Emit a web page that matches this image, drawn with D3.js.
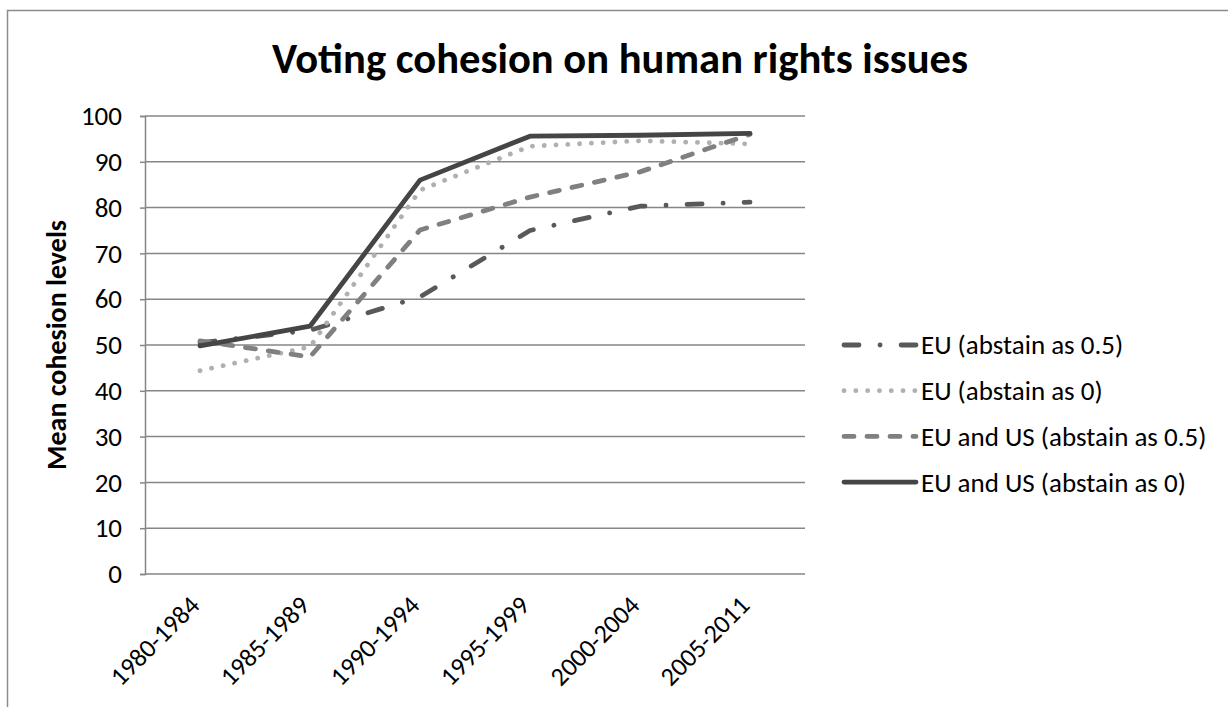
<!DOCTYPE html>
<html>
<head>
<meta charset="utf-8">
<script src="https://cdn.jsdelivr.net/npm/d3@7/dist/d3.min.js"></script>
<style>
  html, body { margin: 0; padding: 0; background: #fff; }
  svg { display: block; }
  text { font-family: Carlito, Lato, "Open Sans", sans-serif; fill: #000; }
</style>
</head>
<body>
<svg id="chart" width="1228" height="707"></svg>
<script>
// Periods on the x axis
const periods = ["1980-1984", "1985-1989", "1990-1994", "1995-1999", "2000-2004", "2005-2011"];

// Mean cohesion level per period for each measure
const euHalf    = [50.5, 53.2, 60.5, 75.0, 80.3, 81.2];
const euZero    = [44.4, 49.6, 83.8, 93.4, 94.6, 93.9];
const euUsHalf  = [50.9, 47.4, 75.1, 82.3, 87.8, 96.0];
const euUsZero  = [49.8, 54.1, 86.0, 95.6, 95.8, 96.2];

const seriesNames = [
  "EU (abstain as 0.5)",
  "EU (abstain as 0)",
  "EU and US (abstain as 0.5)",
  "EU and US (abstain as 0)"
];

const yTicks = [0, 10, 20, 30, 40, 50, 60, 70, 80, 90, 100];

// Line styles, drawn in series order
const styles = [
  { color: "#595959", dash: "15,21,0.1,21" },
  { color: "#b0b0b0", dash: "0.1,11.7" },
  { color: "#808080", dash: "10,13" },
  { color: "#454545", dash: null }
];

const series = [euHalf, euZero, euUsHalf, euUsZero].map((values, i) => ({
  name: seriesNames[i],
  values,
  style: styles[i]
}));

const FONT = "Carlito, Lato, 'Open Sans', sans-serif";
const svg = d3.select("#chart");
const plot = { left: 145, right: 805, top: 116, bottom: 574 };

// Outer chart frame
svg.append("rect")
  .attr("x", 7.5).attr("y", 10.5)
  .attr("width", 1240).attr("height", 720)
  .attr("fill", "#fff")
  .attr("stroke", "#8c8c8c").attr("stroke-width", 1.5);

const x = d3.scalePoint().domain(periods).range([plot.left, plot.right]).padding(0.5);
const y = d3.scaleLinear().domain([0, 100]).range([plot.bottom, plot.top]);

// Horizontal gridlines
svg.append("g")
  .selectAll("line")
  .data(yTicks.filter(t => t > 0))
  .join("line")
  .attr("x1", plot.left).attr("x2", plot.right)
  .attr("y1", d => y(d)).attr("y2", d => y(d))
  .attr("stroke", "#868686").attr("stroke-width", 1.5);

// Y axis
const yAxis = svg.append("g")
  .attr("transform", `translate(${plot.left},0)`)
  .call(d3.axisLeft(y).tickValues(yTicks).tickSize(5).tickPadding(18));
yAxis.attr("font-family", FONT).attr("font-size", 27);
yAxis.select(".domain").attr("stroke", "#868686").attr("stroke-width", 1.5);
yAxis.selectAll(".tick line").attr("stroke", "#868686").attr("stroke-width", 1.5);
yAxis.selectAll(".tick text").attr("fill", "#000");

// X axis line
const xAxis = svg.append("g")
  .attr("transform", `translate(0,${plot.bottom})`)
  .call(d3.axisBottom(x).tickSize(0).tickFormat(() => ""));
xAxis.select(".domain")
  .attr("d", `M${plot.left},0H${plot.right}`)
  .attr("stroke", "#868686").attr("stroke-width", 1.5);

// Rotated period labels
svg.append("g")
  .selectAll("text")
  .data(periods)
  .join("text")
  .attr("transform", d => `translate(${x(d) + 1},${plot.bottom + 33}) rotate(-45)`)
  .attr("text-anchor", "end")
  .attr("font-size", 26)
  .text(d => d);

// Y axis title
svg.append("text")
  .attr("transform", `translate(66,${(plot.top + plot.bottom) / 2}) rotate(-90)`)
  .attr("text-anchor", "middle")
  .attr("font-size", 28)
  .attr("font-weight", "bold")
  .text("Mean cohesion levels");

// Chart title
svg.append("text")
  .attr("x", 620).attr("y", 73)
  .attr("text-anchor", "middle")
  .attr("font-size", 42.6)
  .attr("font-weight", "bold")
  .text("Voting cohesion on human rights issues");

// Series lines
const line = d3.line()
  .x((d, i) => x(periods[i]))
  .y(d => y(d));

svg.append("g")
  .selectAll("path")
  .data(series)
  .join("path")
  .attr("d", d => line(d.values))
  .attr("fill", "none")
  .attr("stroke", d => d.style.color)
  .attr("stroke-width", 4.8)
  .attr("stroke-linecap", "round")
  .attr("stroke-linejoin", "round")
  .attr("stroke-dasharray", d => d.style.dash);

// Legend
const legend = svg.append("g")
  .selectAll("g")
  .data(series)
  .join("g")
  .attr("transform", (d, i) => `translate(844,${345 + i * 45.7})`);

legend.append("line")
  .attr("x1", 0).attr("x2", 72)
  .attr("stroke", d => d.style.color)
  .attr("stroke-width", 4.8)
  .attr("stroke-linecap", "round")
  .attr("stroke-dasharray", d => d.style.dash);

legend.append("text")
  .attr("x", 77).attr("y", 0)
  .attr("dy", "0.35em")
  .attr("font-size", 27)
  .text(d => d.name);
</script>
</body>
</html>
